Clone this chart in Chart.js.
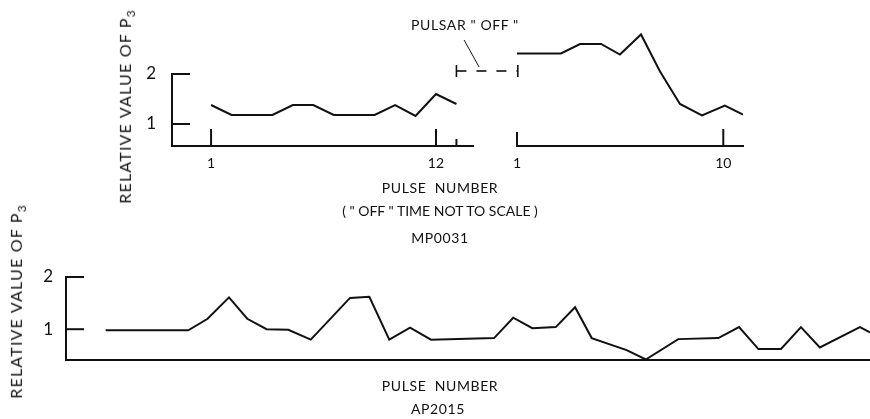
<!DOCTYPE html>
<html>
<head>
<meta charset="utf-8">
<script src="https://cdn.jsdelivr.net/npm/chart.js@4.4.1/dist/chart.umd.min.js"></script>
<style>
  html, body { margin: 0; padding: 0; background: #fff; }
  body { width: 870px; height: 419px; position: relative; overflow: hidden;
         font-family: Lato, "DejaVu Sans", sans-serif; color: #111; }
  canvas { position: absolute; }
  .t { position: absolute; white-space: nowrap; font-size: 14px; letter-spacing: 0.6px;
       transform: translate(-50%, -50%); line-height: 1; }
  .yt { position: absolute; white-space: nowrap; font-size: 16px; letter-spacing: 1.2px;
        transform: translate(-50%, -50%) rotate(-90deg); line-height: 1; }
  .yt sub { font-size: 12px; letter-spacing: 0; }
</style>
</head>
<body>

<canvas id="mpBefore" width="530" height="200" style="left:0;top:0"></canvas>
<canvas id="mpAfter" width="430" height="200" style="left:440px;top:0"></canvas>
<canvas id="apChart" width="870" height="169" style="left:0;top:250px"></canvas>

<div class="yt" style="left:127px;top:107px">RELATIVE VALUE OF P<sub>3</sub></div>
<div class="t" style="left:465px;top:25px">PULSAR " OFF "</div>
<div class="t" style="left:440px;top:188px">PULSE&nbsp; NUMBER</div>
<div class="t" style="left:440px;top:211px;letter-spacing:0">( " OFF " TIME NOT TO SCALE )</div>
<div class="t" style="left:440px;top:238px">MP0031</div>

<div class="yt" style="left:18px;top:302px">RELATIVE VALUE OF P<sub>3</sub></div>
<div class="t" style="left:440px;top:386px">PULSE&nbsp; NUMBER</div>
<div class="t" style="left:438px;top:409px">AP2015</div>

<script>
// MP0031 — pulses before the pulsar switches "off"
const mpBeforeX = [1, 2, 3, 4, 5, 6, 7, 8, 9, 10, 11, 12, 13];
const mpBeforeY = [1.38, 1.18, 1.18, 1.18, 1.38, 1.38, 1.18, 1.18, 1.18, 1.38, 1.16, 1.6, 1.4];

// MP0031 — pulses after it comes back "on"
const mpAfterX = [1, 2, 2.92, 3.75, 4.67, 5.49, 6.41, 7.24, 8.11, 9.07, 10.07, 10.86];
const mpAfterY = [2.41, 2.41, 2.41, 2.6, 2.6, 2.39, 2.79, 2.05, 1.4, 1.17, 1.37, 1.19];

// AP2015
const apX = [1, 5.02, 5.96, 7.0, 7.89, 8.83, 9.89, 10.98, 12.89, 13.83, 14.8, 15.81, 16.83,
             19.9, 20.83, 21.76, 22.9, 23.84, 24.65, 26.35, 27.28, 28.86, 30.81, 31.82,
             32.76, 33.86, 34.83, 35.75, 37.7, 38.19];
const apY = [0.98, 0.98, 1.2, 1.61, 1.2, 1.0, 0.99, 0.8, 1.6, 1.62, 0.8, 1.03, 0.8,
             0.83, 1.22, 1.02, 1.04, 1.42, 0.83, 0.6, 0.42, 0.81, 0.83, 1.04,
             0.62, 0.62, 1.04, 0.65, 1.04, 0.94];

// tick labels
const mpBeforeTicks = [1, 12];
const mpAfterTicks = [1, 10];
const valueTicks = [1, 2];

// "off" gap marker, in pulse units of the first panel
const offGap = { from: 13, to: 16, level: 2.06 };

const INK = "#111";
const FONT = "Lato, 'DejaVu Sans', sans-serif";

function pts(xs, ys) {
  return xs.map((x, i) => ({ x: x, y: ys[i] }));
}

// tick marks drawn inward from the axes, as in the original figure
const innerTicks = {
  id: "innerTicks",
  afterDraw(chart, args, opts) {
    const ctx = chart.ctx;
    const xs = chart.scales.x, ys = chart.scales.y;
    ctx.save();
    ctx.strokeStyle = INK;
    ctx.lineWidth = 2;
    (opts.y || []).forEach(v => {
      const py = ys.getPixelForValue(v);
      ctx.beginPath();
      ctx.moveTo(xs.left, py);
      ctx.lineTo(xs.left + opts.yLen, py);
      ctx.stroke();
    });
    (opts.x || []).forEach(t => {
      const px = xs.getPixelForValue(t.v);
      ctx.beginPath();
      ctx.moveTo(px, ys.bottom);
      ctx.lineTo(px, ys.bottom - t.len);
      ctx.stroke();
    });
    if (opts.gap) {
      const g = opts.gap;
      const x0 = xs.getPixelForValue(g.from), x1 = xs.getPixelForValue(g.to);
      const py = ys.getPixelForValue(g.level);
      ctx.lineWidth = 1.6;
      ctx.beginPath();
      ctx.moveTo(x0, py - 6); ctx.lineTo(x0, py + 6);
      ctx.moveTo(x1, py - 6); ctx.lineTo(x1, py + 6);
      ctx.stroke();
      ctx.setLineDash([10, 10]);
      ctx.beginPath();
      ctx.moveTo(x0, py); ctx.lineTo(x1, py);
      ctx.stroke();
      ctx.setLineDash([]);
      // leader from the label
      ctx.lineWidth = 1;
      const mid = (x0 + x1) / 2;
      ctx.beginPath();
      ctx.moveTo(mid - 8, py - 4);
      ctx.lineTo(mid - 23, py - 31);
      ctx.stroke();
    }
    ctx.restore();
  }
};

function makeChart(id, cfg) {
  return new Chart(document.getElementById(id), {
    type: "line",
    data: {
      datasets: [{
        data: cfg.data,
        borderColor: INK,
        borderWidth: 2,
        pointRadius: 0,
        tension: 0,
        fill: false
      }]
    },
    options: {
      responsive: false,
      animation: false,
      devicePixelRatio: 1,
      layout: { padding: cfg.padding },
      plugins: { legend: { display: false }, tooltip: { enabled: false }, innerTicks: cfg.marks },
      scales: {
        x: {
          type: "linear",
          min: cfg.xMin, max: cfg.xMax,
          afterBuildTicks: s => { s.ticks = cfg.xTicks.map(v => ({ value: v })); },
          afterFit: s => { s.height = cfg.xH; },
          grid: { display: false, drawTicks: false },
          border: { display: true, color: INK, width: 2 },
          ticks: { display: cfg.xTicks.length > 0, padding: 9, color: INK, autoSkip: false,
                   maxRotation: 0, font: { family: FONT, size: 14 } }
        },
        y: {
          type: "linear",
          display: cfg.yShow,
          min: cfg.yMin, max: cfg.yMax,
          afterBuildTicks: s => { s.ticks = valueTicks.map(v => ({ value: v })); },
          afterFit: s => { s.width = cfg.yShow ? 30 : 0; },
          grid: { display: false, drawTicks: false },
          border: { display: true, color: INK, width: 2 },
          ticks: { padding: cfg.yPad, color: INK, font: { family: FONT, size: 17 } }
        }
      }
    },
    plugins: [innerTicks]
  });
}

// top left: chart area 172..473 x 74..146
makeChart("mpBefore", {
  data: pts(mpBeforeX, mpBeforeY),
  padding: { left: 142, right: 57, top: 74, bottom: 24 },
  xMin: -0.91, xMax: 13.81, xTicks: mpBeforeTicks, xH: 30,
  yMin: 0.56, yMax: 2, yShow: true, yPad: 16,
  marks: { y: valueTicks, yLen: 18, x: [{ v: 1, len: 17 }, { v: 12, len: 17 }, { v: 13, len: 7 }], gap: offGap }
});

// top right: chart area 517..743 x 24..146
makeChart("mpAfter", {
  data: pts(mpAfterX, mpAfterY),
  padding: { left: 77, right: 127, top: 24, bottom: 24 },
  xMin: 1, xMax: 10.86, xTicks: mpAfterTicks, xH: 30,
  yMin: 0.56, yMax: 3, yShow: false, yPad: 0,
  marks: { x: [{ v: 1, len: 14 }, { v: 10, len: 17 }] }
});

// bottom: chart area 66..870 x 277..360
makeChart("apChart", {
  data: pts(apX, apY),
  padding: { left: 36, right: 0, top: 27, bottom: 59 },
  xMin: -0.93, xMax: 38.19, xTicks: [], xH: 0,
  yMin: 0.41, yMax: 2, yShow: true, yPad: 13,
  marks: { y: valueTicks, yLen: 18 }
});
</script>
</body>
</html>
